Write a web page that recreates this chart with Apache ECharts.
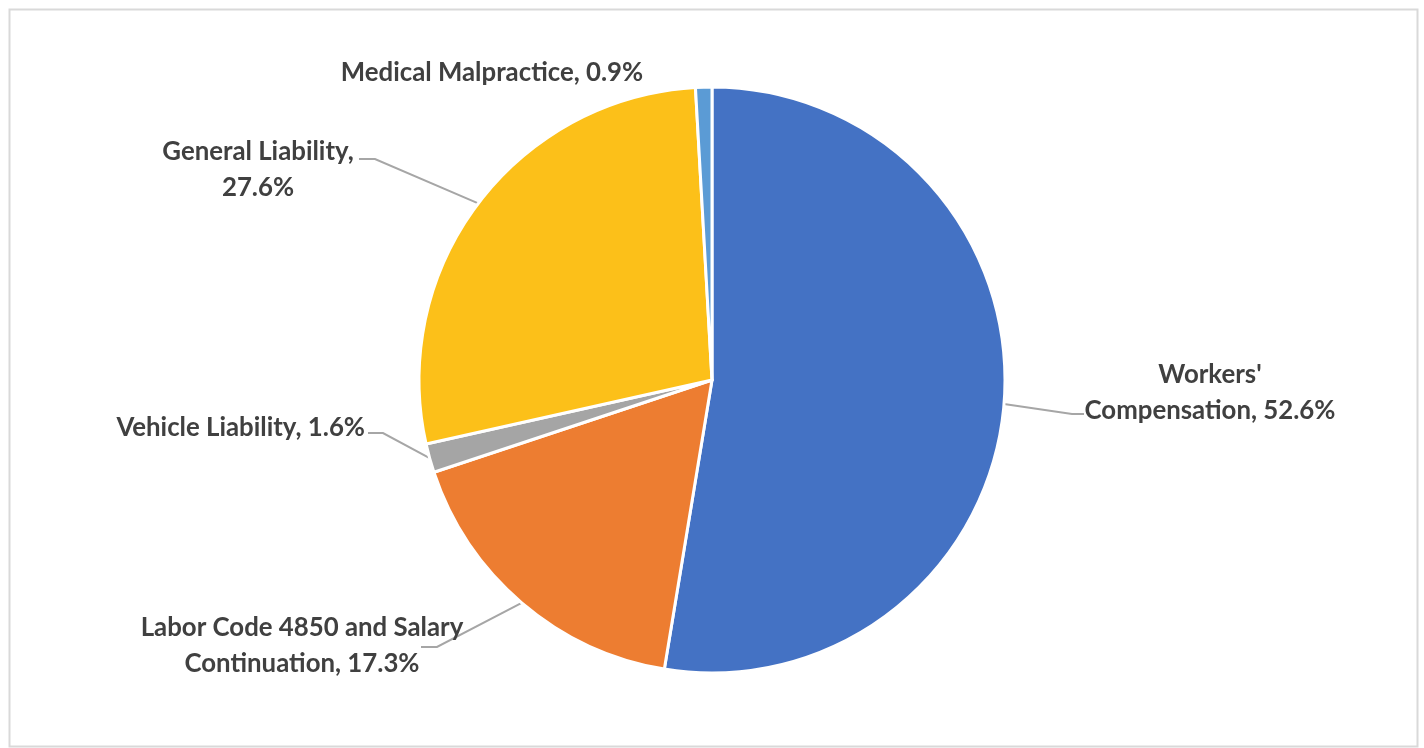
<!DOCTYPE html>
<html>
<head>
<meta charset="utf-8">
<title>Claims by Program</title>
<script src="https://cdn.jsdelivr.net/npm/echarts@6/dist/echarts.min.js"></script>
<style>
  html, body { margin: 0; padding: 0; background: #ffffff; }
  #chart { width: 1424px; height: 748px; }
</style>
</head>
<body>
<div id="chart"></div>
<script>
// Share of claims by program (percent of total)
const categories = [
  "Workers' Compensation",
  "Labor Code 4850 and Salary Continuation",
  "Vehicle Liability",
  "General Liability",
  "Medical Malpractice"
];
const shares = [52.6, 17.3, 1.6, 27.6, 0.9];

// How each label's text is split over lines
const labelHeads = [
  "Workers'\nCompensation",
  "Labor Code 4850 and Salary\nContinuation",
  "Vehicle Liability",
  "General Liability",
  "Medical Malpractice"
];
const labelJoins = [", ", ", ", ", ", ",\n", ", "];

const sliceColors = ["#4472C4", "#ED7D31", "#A5A5A5", "#FCC019", "#5B9BD5"];

// Label placement: anchor, alignment and the leader's elbow/end points
const labelSpots = [
  { x: 1210, y: 393, align: "center", elbow: [1072, 414], end: [1084, 414] },
  { x: 302, y: 646, align: "center", elbow: [437, 647], end: [421, 647] },
  { x: 365, y: 428, align: "right", elbow: [383, 433], end: [368, 433] },
  { x: 258, y: 170, align: "center", elbow: [375, 159], end: [359, 159] },
  { x: 492, y: 73, align: "center", elbow: null, end: null }
];

const chart = echarts.init(document.getElementById("chart"), null, { renderer: "canvas" });

const pieData = categories.map((name, i) => ({
  name: name,
  value: shares[i],
  itemStyle: { color: sliceColors[i] },
  labelLine: { show: labelSpots[i].elbow !== null }
}));

chart.setOption({
  animation: false,
  backgroundColor: "#ffffff",
  graphic: [{
    type: "rect",
    left: 7,
    top: 7,
    shape: { width: 1408, height: 737 },
    style: { fill: "none", stroke: "#D9D9D9", lineWidth: 2 },
    silent: true,
    z: -1
  }],
  series: [{
    type: "pie",
    center: [712, 380],
    radius: 293,
    startAngle: 90,
    clockwise: true,
    avoidLabelOverlap: false,
    data: pieData,
    itemStyle: { borderColor: "#ffffff", borderWidth: 3 },
    emphasis: { disabled: true },
    label: {
      show: true,
      position: "outside",
      fontFamily: "Lato",
      fontWeight: "bold",
      fontSize: 25.8,
      lineHeight: 36,
      color: "#404040",
      formatter: p => labelHeads[p.dataIndex] + labelJoins[p.dataIndex] + shares[p.dataIndex].toFixed(1) + "%"
    },
    labelLine: {
      show: true,
      length: 40,
      length2: 10,
      smooth: false,
      lineStyle: { color: "#A6A6A6", width: 2 }
    },
    labelLayout: function (params) {
      const spot = labelSpots[params.dataIndex];
      const out = {
        x: spot.x,
        y: spot.y,
        align: spot.align,
        verticalAlign: "middle"
      };
      if (spot.elbow && params.labelLinePoints) {
        out.labelLinePoints = [params.labelLinePoints[0], spot.elbow, spot.end];
      }
      return out;
    }
  }]
});
</script>
</body>
</html>
